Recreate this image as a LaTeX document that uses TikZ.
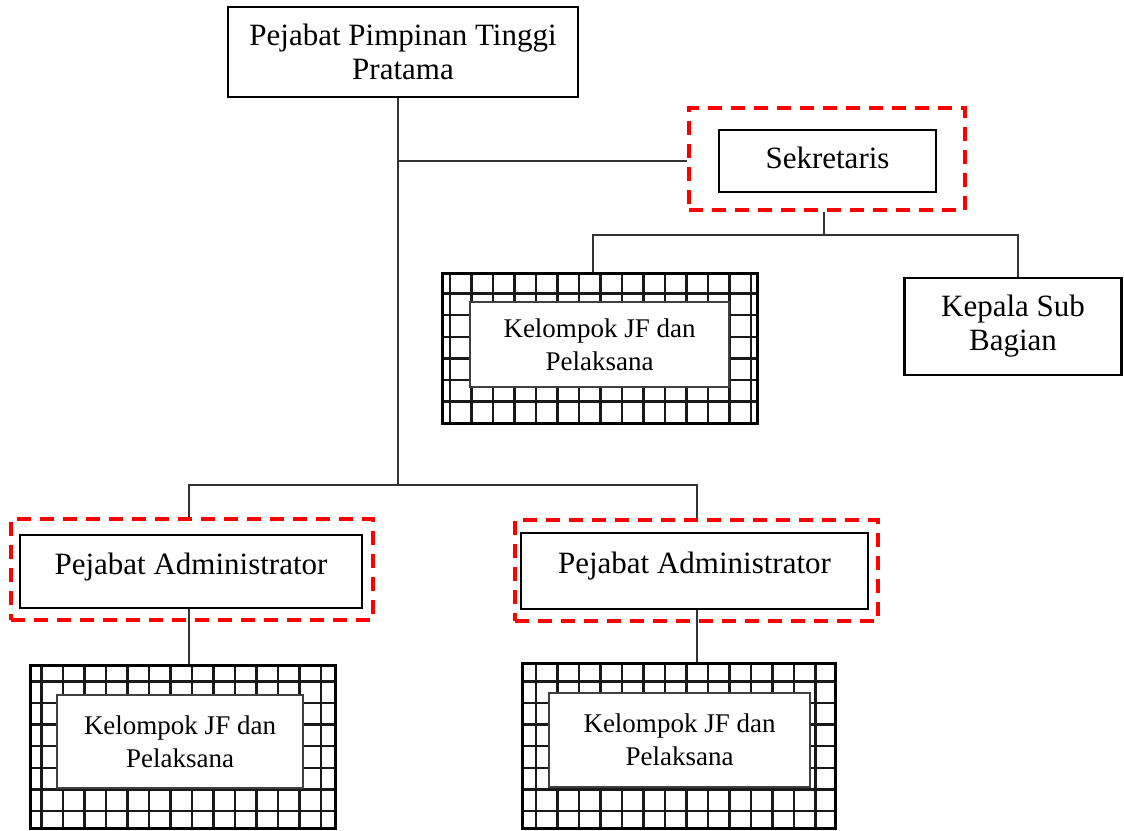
\documentclass[tikz,border=0pt]{standalone}
\usepackage{fontspec}
\setmainfont{Liberation Serif}
\usetikzlibrary{backgrounds}

% grid hatching clipped to a rectangle (x1,y1)-(x2,y2); the mesh is global
\newcommand\meshfill[4]{%
  \begin{scope}
    \clip (#1,#2) rectangle (#3,#4);
    \foreach \k in {0,...,51}
      \draw[gridline] ({20+21.5*\k},#2) -- ({20+21.5*\k},#4);
    \foreach \k in {0,...,38}
      \draw[gridline] (#1,{13.5+21.55*\k}) -- (#3,{13.5+21.55*\k});
  \end{scope}}

\begin{document}
\begin{tikzpicture}[x=1pt,y=-1pt,
  unitbox/.style={draw=black, line width=2.8pt, fill=white, align=center,
    inner sep=0pt, font=\fontsize{31}{34}\selectfont},
  frame/.style={draw=red, line width=3.5pt, dash pattern=on 14pt off 9pt,
    inner sep=0pt},
  gridframe/.style={draw=black, line width=3pt, inner sep=0pt},
  jfbox/.style={draw=black!75, line width=1.4pt, fill=white, align=center,
    inner sep=0pt, font=\fontsize{27}{33}\selectfont},
  link/.style={draw=black!80, line width=1.3pt},
  gridline/.style={draw=black!90, line width=2.4pt},
  adminbox/.style={unitbox, text height=20pt, text depth=15pt},
]
\useasboundingbox (0,0) rectangle (1124,830);

% top unit
\node[unitbox, minimum width=350pt, minimum height=90pt] (ppt) at (403,52)
  {Pejabat Pimpinan Tinggi\\Pratama};

% secretary
\node[frame, minimum width=276pt, minimum height=102pt] (sekd) at (827,159) {};
\node[unitbox, minimum width=217pt, minimum height=62pt, text height=21pt,
  text depth=7pt] (sek) at (827.5,161) {Sekretaris};
\node[unitbox, minimum width=217pt, minimum height=97pt] (ksb) at (1013,326.5)
  {Kepala Sub\\Bagian};

% functional groups under the secretary
\meshfill{442}{273}{757}{423}
\node[gridframe, minimum width=315pt, minimum height=150pt] (g1) at (599.5,348) {};
\node[jfbox, minimum width=259pt, minimum height=85pt] (jf1) at (599.5,344.5)
  {Kelompok JF dan\\Pelaksana};

% administrators
\node[frame, minimum width=362pt, minimum height=101pt] (pad1) at (192,569.5) {};
\node[adminbox, minimum width=342pt, minimum height=73pt] (pa1) at (191,571.5)
  {Pejabat Administrator};
\node[frame, minimum width=363pt, minimum height=101pt] (pad2) at (696.5,570.5) {};
\node[adminbox, minimum width=347pt, minimum height=76pt] (pa2) at (694.5,571)
  {Pejabat Administrator};

% functional groups under the administrators
\meshfill{30}{665}{335}{828}
\node[gridframe, minimum width=305pt, minimum height=163pt] (g2) at (182.5,746.5) {};
\node[jfbox, minimum width=246pt, minimum height=93pt] (jf2) at (180,741.5)
  {Kelompok JF dan\\Pelaksana};
\meshfill{522}{663}{835}{828}
\node[gridframe, minimum width=313pt, minimum height=165pt] (g3) at (678.5,745.5) {};
\node[jfbox, minimum width=261pt, minimum height=94pt] (jf3) at (679.5,740)
  {Kelompok JF dan\\Pelaksana};

% connectors
\coordinate (t1) at (398,161);
\coordinate (t2) at (398,485);
\coordinate (s0) at (824,235);
\coordinate (sL) at (593,235);
\coordinate (sR) at (1018,235);
\coordinate (bL) at (189,485);
\coordinate (bR) at (697,485);
\begin{scope}[on background layer]
  \draw[link] (ppt.south -| t1) -- (t2);
  \draw[link] (t1) -- (t1 -| sekd.west);
  \draw[link] (sekd.south -| s0) -- (s0);
  \draw[link] (sL |- g1.north) -- (sL) -- (sR) -- (sR |- ksb.north);
  \draw[link] (bL |- pad1.north) -- (bL) -- (bR) -- (bR |- pad2.north);
  \draw[link] (bL |- pa1.south) -- (bL |- g2.north);
  \draw[link] (bR |- pa2.south) -- (bR |- g3.north);
\end{scope}
\end{tikzpicture}
\end{document}
